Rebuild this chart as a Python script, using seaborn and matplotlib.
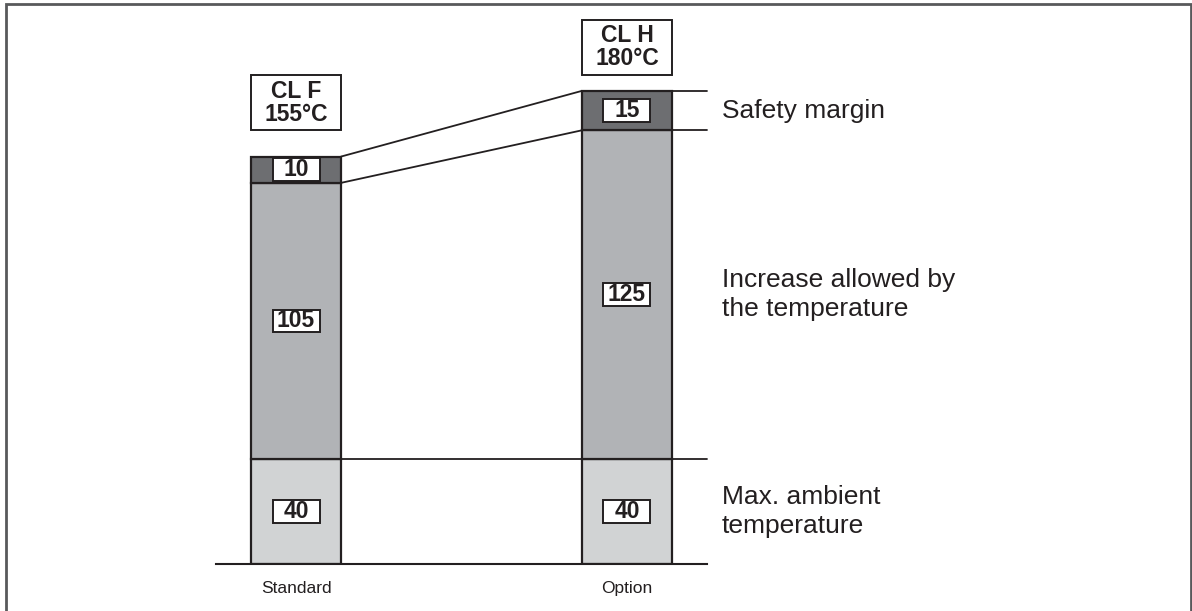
import matplotlib
matplotlib.use('Agg')
import numpy as np
import pandas as pd
import matplotlib.pyplot as plt
from matplotlib.patches import Rectangle
import seaborn as sns

# values
categories = ['Standard', 'Option']
ambient = [40, 40]
increase = [105, 125]
margin = [10, 15]
class_names = ['CL F', 'CL H']
class_temps = ['155°C', '180°C']
side_labels = ['Max. ambient\ntemperature', 'Increase allowed by\nthe temperature', 'Safety margin']

sns.set_style('white')
plt.rcParams['font.family'] = ['Liberation Sans', 'DejaVu Sans']

layers = pd.DataFrame({'category': categories, 'ambient': ambient,
                       'increase': increase, 'margin': margin})
layers['base_increase'] = layers['ambient']
layers['base_margin'] = layers['ambient'] + layers['increase']
layers['total'] = layers['base_margin'] + layers['margin']

edge = '#231f20'
bar_w = 0.272
half = bar_w / 2
x_lo, x_hi = -0.2417, 1.2417

fig = plt.figure(figsize=(11.92, 6.11), dpi=100)
ax = fig.add_axes([216 / 1192, 47 / 611, 491 / 1192, 552 / 611])

# stacked bars, one seaborn call per layer
for col, bottom, colr in [('ambient', np.zeros(len(categories)), '#d1d3d4'),
                          ('increase', layers['base_increase'].values, '#b1b3b6'),
                          ('margin', layers['base_margin'].values, '#6d6e71')]:
    sns.barplot(data=layers, x='category', y=col, bottom=bottom, width=bar_w,
                color=colr, saturation=1, edgecolor=edge, linewidth=1.6,
                errorbar=None, ax=ax, zorder=2)

xs = np.arange(len(categories))
ax.set_xlim(x_lo, x_hi)
ax.set_ylim(0, 210)

# connectors between the two bars
for lvl in ['total', 'base_margin']:
    ax.plot([xs[0] + half, xs[1] - half], layers[lvl].values, color=edge, lw=1.3, zorder=1)
# guide lines to the side labels
ax.plot([xs[0] + half, x_hi], [ambient[0], ambient[1]], color=edge, lw=1.3, zorder=1,
        clip_on=False)
for lvl in ['total', 'base_margin']:
    yv = layers[lvl].values[1]
    ax.plot([xs[1] + half, x_hi], [yv, yv], color=edge, lw=1.3, zorder=1, clip_on=False)

# value boxes inside the segments
box_w, box_h = 0.142, 8.6
for i in range(len(categories)):
    segs = [(0, ambient[i]), (ambient[i], increase[i]), (ambient[i] + increase[i], margin[i])]
    for bot, val in segs:
        mid = bot + val / 2
        ax.add_patch(Rectangle((xs[i] - box_w / 2, mid - box_h / 2), box_w, box_h,
                               facecolor='white', edgecolor=edge, lw=1.4, zorder=3))
        ax.text(xs[i], mid, str(val), ha='center', va='center', fontsize=16.5,
                fontweight='bold', color=edge, zorder=4)

# insulation class boxes above bars
label_gap = [10, 6]
for i in range(len(categories)):
    bot = layers['total'].values[i] + label_gap[i]
    ax.add_patch(Rectangle((xs[i] - half, bot), bar_w, 21, facecolor='white',
                           edgecolor=edge, lw=1.4, zorder=3, clip_on=False))
    ax.text(xs[i], bot + 10.5, class_names[i] + '\n' + class_temps[i], ha='center',
            va='center', fontsize=16.5, fontweight='bold', color=edge,
            linespacing=1.0, zorder=4, clip_on=False)

# side labels at the middle of each segment of the right bar
mids = [ambient[1] / 2, ambient[1] + increase[1] / 2,
        ambient[1] + increase[1] + margin[1] / 2]
for lab, m in zip(side_labels, mids):
    ax.text(1.287, m, lab, ha='left', va='center', fontsize=19, color=edge,
            linespacing=1.3, clip_on=False)

ax.set_xlabel('')
ax.set_ylabel('')
ax.set_yticks([])
ax.tick_params(axis='x', length=0, pad=12, labelsize=12.5, colors=edge)
for s in ['top', 'left', 'right']:
    ax.spines[s].set_visible(False)
ax.spines['bottom'].set_color(edge)
ax.spines['bottom'].set_linewidth(1.5)
ax.spines['bottom'].set_zorder(5)

# outer frame of the drawing
fig.add_artist(Rectangle((6 / 1192, -0.02), 1185 / 1192, 0.99345 + 0.02,
                         transform=fig.transFigure, fill=False,
                         edgecolor='#58595b', lw=2))

fig.savefig('out.png', dpi=100)
